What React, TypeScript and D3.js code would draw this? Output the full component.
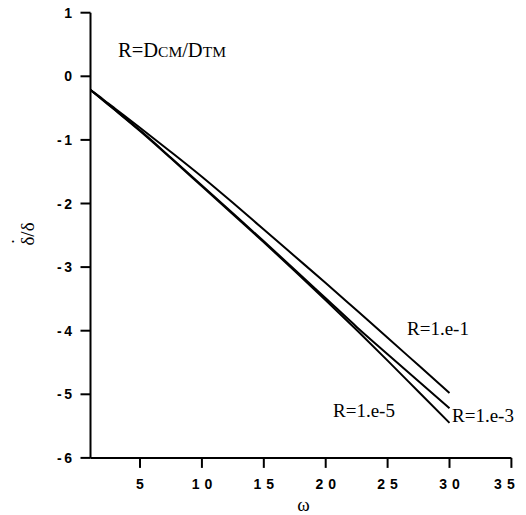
import React from "react";
import * as d3 from "d3";

// Frequency samples along the horizontal axis
const omega = [1, 2, 3, 5, 7.5, 10, 12.5, 15, 17.5, 20, 22.5, 25, 27.5, 30];

// Growth-rate ratio for each diffusivity ratio R
const rTenth = [-0.215, -0.36, -0.51, -0.81, -1.19, -1.58, -1.99, -2.41, -2.83, -3.25, -3.68, -4.11, -4.545, -4.98];
const rThousandth = [-0.215, -0.37, -0.53, -0.85, -1.28, -1.715, -2.155, -2.595, -3.04, -3.49, -3.94, -4.37, -4.795, -5.22];
const rHundredThousandth = [-0.215, -0.375, -0.535, -0.86, -1.29, -1.73, -2.17, -2.61, -3.06, -3.52, -3.99, -4.47, -4.96, -5.45];

const seriesLabels = ["R=1.e-1", "R=1.e-3", "R=1.e-5"];

const xTicks = [5, 10, 15, 20, 25, 30, 35];
const yTicks = [1, 0, -1, -2, -3, -4, -5, -6];

const W = 526;
const H = 515;

export default function App() {
  const x = d3.scaleLinear().domain([1, 35]).range([90.5, 511.4]);
  const y = d3.scaleLinear().domain([1, -6]).range([12.7, 457.9]);

  const line = d3
    .line<[number, number]>()
    .x((d) => x(d[0]))
    .y((d) => y(d[1]))
    .curve(d3.curveMonotoneX);

  const series = [rTenth, rThousandth, rHundredThousandth].map((vals) =>
    vals.map((v, i) => [omega[i], v] as [number, number])
  );

  const tickFont = "'Liberation Sans', Arial, sans-serif";
  const serif = "'Liberation Serif', 'Times New Roman', serif";
  const x0 = x(1);
  const yBase = y(-6);
  const lastTick = xTicks[xTicks.length - 1];

  // curve label anchors (start x, baseline y)
  const labelPos: [number, number][] = [
    [407, 335],
    [452, 421.5],
    [333, 416.5],
  ];

  return (
    <svg
      width={W}
      height={H}
      style={{ position: "absolute", left: 0, top: 0, background: "#fff" }}
    >
      <rect width={W} height={H} fill="#fff" />

      {/* axes */}
      <line x1={x0} x2={x0} y1={y(1)} y2={yBase} stroke="#000" strokeWidth={2} />
      <line x1={x0} x2={x(35)} y1={yBase} y2={yBase} stroke="#000" strokeWidth={2} />

      {yTicks.map((t) => (
        <g key={"y" + t}>
          <line x1={x0 - 10} x2={x0} y1={y(t)} y2={y(t)} stroke="#000" strokeWidth={2} />
          <text
            x={74.5}
            y={y(t) + 5}
            textAnchor="end"
            fontFamily={tickFont}
            fontWeight="bold"
            fontSize={14}
            letterSpacing={2.5}
          >
            {String(t)}
          </text>
        </g>
      ))}

      {xTicks.map((t) => (
        <g key={"x" + t}>
          <line x1={x(t)} x2={x(t)} y1={yBase} y2={yBase + 10} stroke="#000" strokeWidth={2} />
          <text
            x={(t === lastTick ? x(t) - 7 : x(t)) + 2.5}
            y={489}
            textAnchor="middle"
            fontFamily={tickFont}
            fontWeight="bold"
            fontSize={14}
            letterSpacing={5}
          >
            {String(t)}
          </text>
        </g>
      ))}

      {/* curves */}
      {series.map((s, i) => (
        <path key={i} d={line(s) || ""} fill="none" stroke="#000" strokeWidth={2} />
      ))}

      {/* curve labels */}
      {seriesLabels.map((lab, i) => (
        <text
          key={lab}
          x={labelPos[i][0]}
          y={labelPos[i][1]}
          fontFamily={serif}
          fontSize={19}
        >
          {lab}
        </text>
      ))}

      {/* definition of R */}
      <text x={118} y={57} fontFamily={serif} fontSize={20.5}>
        R=D<tspan fontSize={15.5}>CM</tspan>/D<tspan fontSize={15.5}>TM</tspan>
      </text>

      {/* axis titles */}
      <text x={303.5} y={511} textAnchor="middle" fontFamily={serif} fontSize={19}>
        ω
      </text>
      <g transform="translate(34,234) rotate(-90)">
        <text textAnchor="middle" fontFamily={serif} fontSize={19}>
          δ/δ
        </text>
        <text x={-7.5} y={-9} textAnchor="middle" fontFamily={serif} fontSize={19}>
          ˙
        </text>
      </g>
    </svg>
  );
}
